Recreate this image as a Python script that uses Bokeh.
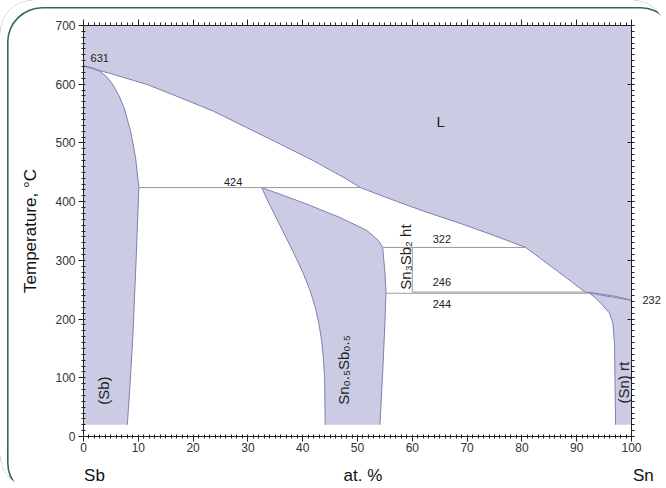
import math
from bokeh.plotting import figure
from bokeh.models import (Range1d, LinearAxis, SingleIntervalTicker, FixedTicker, Label,
                          CustomLabelingPolicy)
from bokeh.embed import file_html
from bokeh.resources import INLINE

# ---- data ----
# liquidus, Sb side -> Sn side
liq_x = [0, 5, 11.6, 17.7, 23.7, 29.8, 35.9, 42, 48, 50.5, 56, 62, 69.2, 75, 80.7, 84, 86.3, 89, 91.5, 94, 97, 100]
liq_t = [631, 618, 599.5, 577, 554, 526, 498, 469.5, 438.5, 424, 404.5, 384, 361.5, 342, 322, 299, 283, 264, 246, 243.2, 238.8, 232]

# (Sb) solid solution boundary
sb_x = [0, 1.5, 3, 4.3, 5.3, 6.5, 7.4, 8.6, 9.5, 10.1, 9.6, 9.0, 8.5, 8.0]
sb_t = [631, 628, 622, 612, 600, 580, 560, 520, 475, 424, 300, 170, 90, 20]

# Sn0.5Sb0.5 boundary (bottom-left -> apex -> bottom-right)
beta_x = [44.1, 44.0, 43.8, 43.5, 43.0, 42.3, 41.3, 40.0, 38.5, 36.9, 35.3, 33.7, 32.5,
          36.5, 40.7, 46.8, 51.7, 53.8, 54.6, 55.0, 55.2, 55.0, 54.6, 54.1]
beta_t = [20, 100, 130, 160, 190, 220, 250, 280, 310, 340, 370, 400, 424,
          410.5, 396, 373, 351, 334, 322, 280, 246, 193, 110, 20]

# (Sn) solvus + solidus
sn_x = [97.1, 96.9, 96.6, 96.0, 94.7, 93.3, 92.2, 94, 97, 100]
sn_t = [20, 159, 193, 210, 224, 237, 245, 241.5, 236.8, 232]

cut_t = 20  # fills stop here

# invariant lines
inv_xs = [[10.1, 50.5], [54.6, 80.7], [60, 91.5], [55.2, 92.2], [60, 60]]
inv_ts = [[424, 424], [322, 322], [246, 246], [244, 244], [246, 322]]

# texts under the x axis / right of the y axis
bottom_ticks = [2, 51, 100]
bottom_names = ["Sb", "at. %", "\u00a0\u00a0\u00a0\u00a0\u00a0Sn"]
right_ticks = [232]

FILL = "#cbcbe4"
EDGE = "#7f7fae"
GRAY = "#9a9a9a"
FONT = "Liberation Sans"

p = figure(width=666, height=488, x_range=Range1d(0, 100), y_range=Range1d(0, 700),
           output_backend="svg", toolbar_location=None,
           min_border_left=83, min_border_right=35, min_border_top=25, min_border_bottom=52)
p.outline_line_color = None
p.grid.visible = False
p.background_fill_color = "white"
p.border_fill_color = None
p.styles = {
    "box-shadow": "inset 8.5px 8.5px 0 -1.5px #ffffff, inset 8.5px 8.5px 0 0.1px #2e6a58",
    "border-radius": "33.5px",
}

# fills
p.patch([0] + liq_x + [100], [700] + liq_t + [700], fill_color=FILL, line_color=None)
p.patch([0] + sb_x, [cut_t] + sb_t, fill_color=FILL, line_color=None)
p.patch(beta_x, beta_t, fill_color=FILL, line_color=None)
p.patch(sn_x + [100], sn_t + [cut_t], fill_color=FILL, line_color=None)

# boundaries
p.line(liq_x, liq_t, line_color=EDGE, line_width=1)
p.line(sb_x, sb_t, line_color=EDGE, line_width=1)
p.line(beta_x, beta_t, line_color=EDGE, line_width=1)
p.line(sn_x, sn_t, line_color=EDGE, line_width=1)
p.multi_line(inv_xs, inv_ts, line_color=GRAY, line_width=1)

no_labels = CustomLabelingPolicy(code="return new Set()")

def style_axis(ax, size="12px"):
    ax.axis_line_color = "#222222"
    ax.major_tick_line_color = "#222222"
    ax.minor_tick_line_color = "#222222"
    ax.major_label_text_font = FONT
    ax.major_label_text_font_size = size
    ax.major_label_text_color = "#333333"

xa = p.xaxis[0]
xa.ticker = SingleIntervalTicker(interval=10, num_minor_ticks=10)
style_axis(xa)
xa.major_tick_out = 5
xa.major_tick_in = 0
xa.minor_tick_out = 2
xa.minor_tick_in = 2
xa.major_label_standoff = 1

ya = p.yaxis[0]
ya.ticker = SingleIntervalTicker(interval=100, num_minor_ticks=10)
style_axis(ya)
ya.major_tick_out = 5
ya.major_tick_in = 0
ya.minor_tick_out = 2
ya.minor_tick_in = 2
ya.major_label_standoff = 3
ya.axis_label = "Temperature, °C"
ya.axis_label_text_font = FONT
ya.axis_label_text_font_size = "17px"
ya.axis_label_text_font_style = "normal"
ya.axis_label_text_color = "#111111"
ya.axis_label_standoff = 12

top = LinearAxis(ticker=SingleIntervalTicker(interval=10, num_minor_ticks=10),
                 major_label_policy=no_labels)
style_axis(top, size="1px")
top.major_tick_out = 6
top.major_tick_in = 0
top.minor_tick_out = 3
top.minor_tick_in = 0
top.major_label_standoff = 0
p.add_layout(top, "above")

right = LinearAxis(ticker=SingleIntervalTicker(interval=100, num_minor_ticks=10),
                   major_label_policy=no_labels)
style_axis(right, size="1px")
right.major_tick_out = 3
right.major_tick_in = 4
right.minor_tick_out = 3
right.minor_tick_in = 0
right.major_label_standoff = 0
p.add_layout(right, "right")

# "232" to the right of the frame
right2 = LinearAxis(ticker=FixedTicker(ticks=right_ticks, minor_ticks=[]))
style_axis(right2, size="11px")
right2.axis_line_color = None
right2.major_tick_line_color = None
right2.minor_tick_line_color = None
right2.major_tick_out = 0
right2.major_tick_in = 0
right2.minor_tick_out = 0
right2.minor_tick_in = 0
right2.major_label_text_color = "#222222"
right2.major_label_standoff = 3
p.add_layout(right2, "right")

# "Sb   at. %   Sn" under the tick labels
bottom2 = LinearAxis(ticker=FixedTicker(ticks=bottom_ticks, minor_ticks=[]),
                     major_label_overrides=dict(zip(bottom_ticks, bottom_names)))
style_axis(bottom2, size="17px")
bottom2.axis_line_color = None
bottom2.major_tick_line_color = None
bottom2.minor_tick_line_color = None
bottom2.major_label_text_color = "#111111"
bottom2.major_label_standoff = 5
p.add_layout(bottom2, "below")

def lab(x, y, text, size="11px", align="center", baseline="middle", angle=0.0, color="#222222"):
    p.add_layout(Label(x=x, y=y, text=text, text_font=FONT, text_font_size=size,
                       text_align=align, text_baseline=baseline, angle=angle,
                       text_color=color))

# temperatures
lab(1.3, 644, "631", align="left")
lab(27.3, 434, "424")
lab(65.4, 336, "322")
lab(65.4, 263, "246")
lab(65.4, 225, "244")

# phase labels
lab(65.2, 537, "L", size="15px")
lab(3.7, 54, "(Sb)", size="15px", align="left", angle=math.pi / 2)
lab(47.4, 54, "Sn₀.₅Sb₀.₅", size="15px", align="left", angle=math.pi / 2)
lab(58.7, 250, "Sn₃Sb₂ ht", size="15px", align="left", angle=math.pi / 2)
lab(98.5, 56, "(Sn) rt", size="15px", align="left", angle=math.pi / 2)

open("out.html", "w").write(file_html(p, INLINE))
